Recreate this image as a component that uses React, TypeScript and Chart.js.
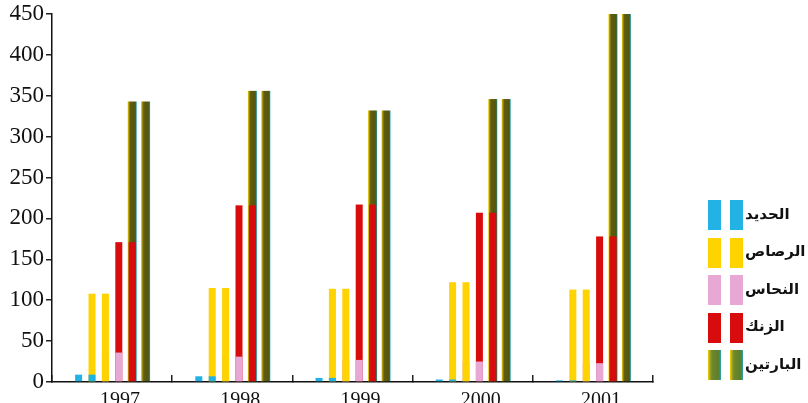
import React, { useEffect, useRef } from 'react';
import { Chart, registerables } from 'chart.js';
Chart.register(...registerables);

const years = ['1997', '1998', '1999', '2000', '2001'];
const seriesNames = ['الحديد', 'الرصاص', 'النحاس', 'الزنك', 'البارتين'];
const iron = [9, 7, 5, 3, 2];
const lead = [108, 115, 114, 122, 113];
const copper = [36, 31, 27, 25, 23];
const zinc = [171, 216, 217, 207, 178];
const barite = [343, 356, 332, 346, 450];
const seriesValues = [iron, lead, copper, zinc, barite];
const seriesColors = ['#22b2e4', '#ffd300', '#e8a8d6', '#d80c0c', '#5e5c12'];

const BAR_W = 7;
const BARITE_W = 9;

function fillBarite(ctx: CanvasRenderingContext2D, left: number, top: number, w: number, h: number, legend = false) {
  const g = ctx.createLinearGradient(left, 0, left + w, 0);
  g.addColorStop(0, '#f4d000');
  g.addColorStop(0.18, legend ? '#9aa02a' : '#8a8216');
  g.addColorStop(0.3, legend ? '#6f8a2a' : '#5f5c10');
  g.addColorStop(0.78, legend ? '#5e7e2c' : '#55560f');
  g.addColorStop(0.9, legend ? '#4f8a50' : '#3f6a3a');
  g.addColorStop(1, '#1ea8cc');
  ctx.fillStyle = g;
  ctx.fillRect(left, top, w, h);
}

const SW_W = 73;

function makeSwatch(i: number): HTMLCanvasElement {
  const c = document.createElement('canvas');
  c.width = SW_W;
  c.height = 30;
  const ctx = c.getContext('2d')!;
  const rects = [SW_W - 35, SW_W - 13];
  rects.forEach((l) => {
    if (i === 4) fillBarite(ctx, l, 0, 13, 30, true);
    else {
      ctx.fillStyle = seriesColors[i];
      ctx.fillRect(l, 0, 13, 30);
    }
  });
  return c;
}

const pairBars = {
  id: 'pairBars',
  beforeDatasetDraw(chart: any, args: any) {
    const ctx = chart.ctx as CanvasRenderingContext2D;
    const idx = args.index;
    const color = seriesColors[idx];
    const bw = idx === 4 ? BARITE_W : BAR_W;
    ctx.save();
    args.meta.data.forEach((el: any) => {
      const { x, y, base, width } = el.getProps(['x', 'y', 'base', 'width'], true);
      [x - width / 2, x + width / 2].forEach((cx) => {
        const left = cx - bw / 2;
        const top = Math.min(y, base);
        const h = Math.abs(base - y);
        if (idx === 4) fillBarite(ctx, left, top, bw, h);
        else {
          ctx.fillStyle = color;
          ctx.fillRect(left, top, bw, h);
        }
      });
    });
    ctx.restore();
    return false;
  },
};

export default function App() {
  const ref = useRef<HTMLCanvasElement>(null);
  useEffect(() => {
    document.body.style.margin = '0';
    const swatches = seriesNames.map((_, i) => makeSwatch(i));
    const chart = new Chart(ref.current!, {
      type: 'bar',
      data: {
        labels: years,
        datasets: seriesNames.map((name, i) => ({
          label: name,
          data: seriesValues[i],
          backgroundColor: seriesColors[i],
          pointStyle: swatches[i] as any,
          categoryPercentage: 0.557,
          barPercentage: 1,
        })),
      },
      options: {
        animation: false,
        responsive: false,
        devicePixelRatio: 1,
        layout: { padding: { top: 14, bottom: 0, left: 0, right: 0 } },
        plugins: {
          tooltip: { enabled: false },
          legend: {
            position: 'right',
            align: 'start',
            maxWidth: 155,
            title: {
              display: true,
              text: '',
              font: { size: 16, lineHeight: 1.2 },
              padding: { top: 151.8, bottom: 0 },
            },
            labels: {
              usePointStyle: true,
              pointStyleWidth: 62,
              padding: 22.5,
              textAlign: 'left',
              color: '#111',
              font: { family: 'DejaVu Sans', size: 15, weight: 'bold' },
            },
          },
        },
        scales: {
          x: {
            afterFit: (s: any) => { s.height = 21; },
            grid: { drawOnChartArea: false, tickLength: -7, color: '#222', lineWidth: 1.5 },
            border: { color: '#111', width: 1.5 },
            ticks: { color: '#111', padding: 14, labelOffset: 8, font: { family: 'Liberation Serif', size: 20 } },
          },
          y: {
            min: 0,
            max: 450,
            afterFit: (s: any) => { s.width = 52; },
            grid: { drawOnChartArea: false, tickLength: 6, color: '#222', lineWidth: 1.5 },
            border: { color: '#111', width: 1.5 },
            ticks: { stepSize: 50, color: '#111', padding: 2, font: { family: 'Liberation Serif', size: 23, lineHeight: 1 } },
          },
        },
      },
      plugins: [pairBars],
    });
    return () => chart.destroy();
  }, []);
  return (
    <div style={{ width: 808, height: 403 }}>
      <canvas ref={ref} width={808} height={403} />
    </div>
  );
}
